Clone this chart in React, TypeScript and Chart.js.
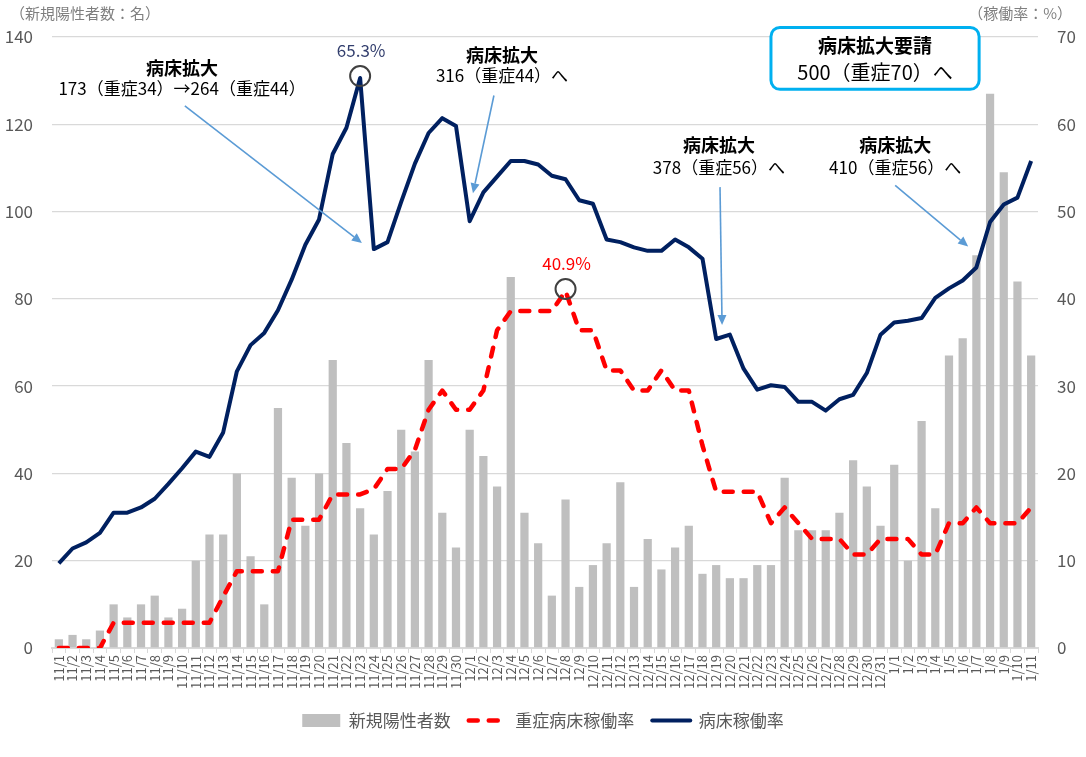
import React, { useEffect, useRef } from 'react';
import { Chart, registerables } from 'chart.js';

Chart.register(...registerables);

const FONT = "'Noto Sans CJK JP', 'Noto Sans', sans-serif";

const labels = [
  '11/1', '11/2', '11/3', '11/4', '11/5', '11/6', '11/7', '11/8', '11/9', '11/10',
  '11/11', '11/12', '11/13', '11/14', '11/15', '11/16', '11/17', '11/18', '11/19', '11/20',
  '11/21', '11/22', '11/23', '11/24', '11/25', '11/26', '11/27', '11/28', '11/29', '11/30',
  '12/1', '12/2', '12/3', '12/4', '12/5', '12/6', '12/7', '12/8', '12/9', '12/10',
  '12/11', '12/12', '12/13', '12/14', '12/15', '12/16', '12/17', '12/18', '12/19', '12/20',
  '12/21', '12/22', '12/23', '12/24', '12/25', '12/26', '12/27', '12/28', '12/29', '12/30', '12/31',
  '1/1', '1/2', '1/3', '1/4', '1/5', '1/6', '1/7', '1/8', '1/9', '1/10', '1/11',
];

const newCases = [
  2, 3, 2, 4, 10, 7, 10, 12, 7, 9,
  20, 26, 26, 40, 21, 10, 55, 39, 28, 40,
  66, 47, 32, 26, 36, 50, 45, 66, 31, 23,
  50, 44, 37, 85, 31, 24, 12, 34, 14, 19,
  24, 38, 14, 25, 18, 23, 28, 17, 19, 16,
  16, 19, 19, 39, 27, 27, 27, 31, 43, 37, 28,
  42, 20, 52, 32, 67, 71, 90, 127, 109, 84, 67,
];

const severeRate = [
  0, 0, 0, 0, 2.9, 2.9, 2.9, 2.9, 2.9, 2.9,
  2.9, 2.9, 5.9, 8.8, 8.8, 8.8, 8.8, 14.7, 14.7, 14.7,
  17.6, 17.6, 17.6, 18.2, 20.5, 20.5, 22.7, 27.3, 29.5, 27.3,
  27.3, 29.5, 36.4, 38.6, 38.6, 38.6, 38.6, 40.9, 36.4, 36.4,
  31.8, 31.8, 29.5, 29.5, 31.8, 29.5, 29.5, 23.2, 17.9, 17.9,
  17.9, 17.9, 14.3, 16.1, 14.3, 12.5, 12.5, 12.5, 10.7, 10.7, 12.5,
  12.5, 12.5, 10.7, 10.7, 14.3, 14.3, 16.1, 14.3, 14.3, 14.3, 16.1,
];

const bedRate = [
  9.7, 11.4, 12.1, 13.2, 15.5, 15.5, 16.1, 17.1, 18.8, 20.6,
  22.5, 21.9, 24.7, 31.7, 34.7, 36.1, 38.7, 42.2, 46.2, 49.1,
  56.6, 59.6, 65.3, 45.7, 46.5, 51.1, 55.5, 59.0, 60.7, 59.8,
  48.9, 52.2, 54.0, 55.8, 55.8, 55.4, 54.1, 53.7, 51.3, 50.9,
  46.8, 46.5, 45.9, 45.5, 45.5, 46.8, 45.9, 44.6, 35.4, 35.9,
  32.0, 29.6, 30.1, 29.9, 28.2, 28.2, 27.2, 28.5, 29.0, 31.5, 35.9,
  37.3, 37.5, 37.8, 40.1, 41.2, 42.1, 43.6, 48.8, 50.8, 51.6, 55.8,
];

const seriesNames = ['新規陽性者数', '重症病床稼働率', '病床稼働率'];
const leftAxisTitle = '（新規陽性者数：名）';
const rightAxisTitle = '（稼働率：%）';

// annotation notes: positions in (category index, right-axis %) coordinates
const notes = [
  { head: '病床拡大', sub: '173（重症34）→264（重症44）', x: 9.0, yHead: 66.4, ySub: 64.1, from: [9.2, 62.1], to: [22.13, 46.4] },
  { head: '病床拡大', sub: '316（重症44）へ', x: 32.36, yHead: 67.9, ySub: 65.6, from: [31.77, 63.3], to: [30.24, 52.1] },
  { head: '病床拡大', sub: '378（重症56）へ', x: 48.2, yHead: 57.6, ySub: 55.0, from: [48.28, 52.8], to: [48.43, 37.0] },
  { head: '病床拡大', sub: '410（重症56）へ', x: 61.07, yHead: 57.6, ySub: 55.0, from: [61.07, 53.0], to: [66.4, 46.0] },
];

const peakNotes = [
  { idx: 22, series: 'bed', text: '65.3%', color: '#333f6e', labelY: 68.5 },
  { idx: 37, series: 'severe', text: '40.9%', color: '#ff0000', labelY: 44.0 },
];

const requestBox = { head: '病床拡大要請', sub: '500（重症70）へ', x0: 52.0, x1: 67.2, yTop: 71.1, yBottom: 64.0, yHead: 69.0, ySub: 66.0 };

function drawArrow(ctx: CanvasRenderingContext2D, x1: number, y1: number, x2: number, y2: number) {
  const ang = Math.atan2(y2 - y1, x2 - x1);
  const hl = 10, hw = 4.5;
  const bx = x2 - hl * Math.cos(ang), by = y2 - hl * Math.sin(ang);
  ctx.strokeStyle = '#5b9bd5';
  ctx.fillStyle = '#5b9bd5';
  ctx.lineWidth = 1.6;
  ctx.setLineDash([]);
  ctx.beginPath();
  ctx.moveTo(x1, y1);
  ctx.lineTo(bx, by);
  ctx.stroke();
  ctx.beginPath();
  ctx.moveTo(x2, y2);
  ctx.lineTo(bx + hw * Math.sin(ang), by - hw * Math.cos(ang));
  ctx.lineTo(bx - hw * Math.sin(ang), by + hw * Math.cos(ang));
  ctx.closePath();
  ctx.fill();
}

const annotationPlugin = {
  id: 'annotations',
  afterDraw(chart: any) {
    const { ctx, scales, chartArea } = chart;
    const xs = scales.x, ys = scales.y1;
    const px = (i: number) => xs.getPixelForValue(i);
    const py = (v: number) => ys.getPixelForValue(v);
    ctx.save();
    ctx.textBaseline = 'middle';

    // axis titles
    ctx.font = `15px ${FONT}`;
    ctx.fillStyle = '#7f7f7f';
    ctx.textAlign = 'left';
    ctx.fillText(leftAxisTitle, 10, chartArea.top - 24);
    ctx.textAlign = 'right';
    ctx.fillText(rightAxisTitle, chart.width - 14, chartArea.top - 24);

    // notes
    ctx.textAlign = 'center';
    for (const n of notes) {
      ctx.fillStyle = '#000';
      ctx.font = `bold 18px ${FONT}`;
      ctx.fillText(n.head, px(n.x), py(n.yHead));
      ctx.font = `17px ${FONT}`;
      ctx.fillText(n.sub, px(n.x), py(n.ySub));
      drawArrow(ctx, px(n.from[0]), py(n.from[1]), px(n.to[0]), py(n.to[1]));
    }

    // peaks
    for (const p of peakNotes) {
      const v = p.series === 'bed' ? bedRate[p.idx] : severeRate[p.idx];
      const cx = px(p.idx), cy = py(v) - 2;
      ctx.strokeStyle = '#404040';
      ctx.lineWidth = 2;
      ctx.beginPath();
      ctx.arc(cx, cy, 10, 0, Math.PI * 2);
      ctx.stroke();
      ctx.fillStyle = p.color;
      ctx.font = `17px ${FONT}`;
      ctx.fillText(p.text, cx + 1, py(p.labelY));
    }

    // request box
    const bx0 = px(requestBox.x0), bx1 = px(requestBox.x1);
    const by0 = py(requestBox.yTop), by1 = py(requestBox.yBottom);
    const r = 9;
    ctx.strokeStyle = '#00b0f0';
    ctx.lineWidth = 3;
    ctx.fillStyle = '#ffffff';
    ctx.beginPath();
    ctx.moveTo(bx0 + r, by0);
    ctx.lineTo(bx1 - r, by0);
    ctx.arcTo(bx1, by0, bx1, by0 + r, r);
    ctx.lineTo(bx1, by1 - r);
    ctx.arcTo(bx1, by1, bx1 - r, by1, r);
    ctx.lineTo(bx0 + r, by1);
    ctx.arcTo(bx0, by1, bx0, by1 - r, r);
    ctx.lineTo(bx0, by0 + r);
    ctx.arcTo(bx0, by0, bx0 + r, by0, r);
    ctx.closePath();
    ctx.fill();
    ctx.stroke();
    const bcx = (bx0 + bx1) / 2;
    ctx.fillStyle = '#000';
    ctx.font = `bold 19px ${FONT}`;
    ctx.fillText(requestBox.head, bcx, py(requestBox.yHead));
    ctx.font = `20px ${FONT}`;
    ctx.fillText(requestBox.sub, bcx, py(requestBox.ySub));

    ctx.restore();
  },
};

const PLOT_BOTTOM = 648;
const PAD_BOTTOM = 18;

export default function App() {
  const ref = useRef<HTMLCanvasElement>(null);

  useEffect(() => {
    document.body.style.margin = '0';
    Chart.defaults.font.family = FONT;
    const chart = new Chart(ref.current as HTMLCanvasElement, {
      type: 'bar',
      data: {
        labels,
        datasets: [
          {
            type: 'bar',
            label: seriesNames[0],
            data: newCases,
            yAxisID: 'y',
            backgroundColor: '#bfbfbf',
            barPercentage: 0.6,
            categoryPercentage: 1,
            order: 3,
          },
          {
            type: 'line',
            label: seriesNames[1],
            data: severeRate,
            yAxisID: 'y1',
            borderColor: '#ff0000',
            backgroundColor: '#ff0000',
            borderWidth: 4.5,
            borderDash: [9, 11],
            borderCapStyle: 'round',
            borderJoinStyle: 'round',
            pointRadius: 0,
            tension: 0,
            order: 2,
          },
          {
            type: 'line',
            label: seriesNames[2],
            data: bedRate,
            yAxisID: 'y1',
            borderColor: '#002060',
            backgroundColor: '#002060',
            borderWidth: 4,
            borderJoinStyle: 'round',
            pointRadius: 0,
            tension: 0,
            order: 1,
          },
        ] as any,
      },
      options: {
        responsive: false,
        animation: false,
        layout: { padding: { top: 37, bottom: PAD_BOTTOM, left: 0, right: 0 } },
        plugins: {
          tooltip: { enabled: false },
          legend: {
            position: 'bottom',
            labels: {
              usePointStyle: true,
              pointStyleWidth: 38,
              boxHeight: 13,
              padding: 18,
              color: '#595959',
              font: { size: 17, family: FONT },
              sort: (a: any, b: any) => a.datasetIndex - b.datasetIndex,
              generateLabels: (c: any) =>
                c.data.datasets.map((ds: any, i: number) => ({
                  text: ds.label,
                  fillStyle: ds.type === 'bar' ? ds.backgroundColor : 'rgba(0,0,0,0)',
                  strokeStyle: ds.type === 'bar' ? ds.backgroundColor : ds.borderColor,
                  lineWidth: ds.type === 'bar' ? 0 : ds.borderWidth,
                  lineDash: ds.borderDash || [],
                  lineCap: 'round',
                  pointStyle: ds.type === 'bar' ? 'rect' : 'line',
                  fontColor: '#595959',
                  hidden: false,
                  datasetIndex: i,
                })),
            },
          },
        },
        scales: {
          x: {
            grid: { display: true, drawOnChartArea: false, drawTicks: true, tickLength: 5, color: '#d9d9d9', offset: true },
            border: { display: true, color: '#d9d9d9', width: 2 },
            ticks: { autoSkip: false, maxRotation: 90, minRotation: 90, color: '#595959', font: { size: 13 }, padding: 2 },
            afterFit: (s: any) => {
              const lh = s.chart.legend ? s.chart.legend.height : 0;
              s.height = s.chart.height - PLOT_BOTTOM - lh - PAD_BOTTOM;
            },
          },
          y: {
            position: 'left',
            min: 0,
            max: 140,
            ticks: { stepSize: 20, color: '#595959', font: { size: 17 }, padding: 19 },
            grid: { color: '#d9d9d9', lineWidth: 1.3, drawTicks: false },
            border: { display: false },
            afterFit: (s: any) => { s.width = 52; },
          },
          y1: {
            position: 'right',
            min: 0,
            max: 70,
            ticks: { stepSize: 10, color: '#595959', font: { size: 17 }, padding: 19 },
            grid: { display: false, drawTicks: false },
            border: { display: false },
            afterFit: (s: any) => { s.width = 48; },
          },
        },
      } as any,
      plugins: [annotationPlugin],
    });
    return () => chart.destroy();
  }, []);

  return (
    <div style={{ width: 1086, height: 757 }}>
      <canvas ref={ref} width={1086} height={757} />
    </div>
  );
}
